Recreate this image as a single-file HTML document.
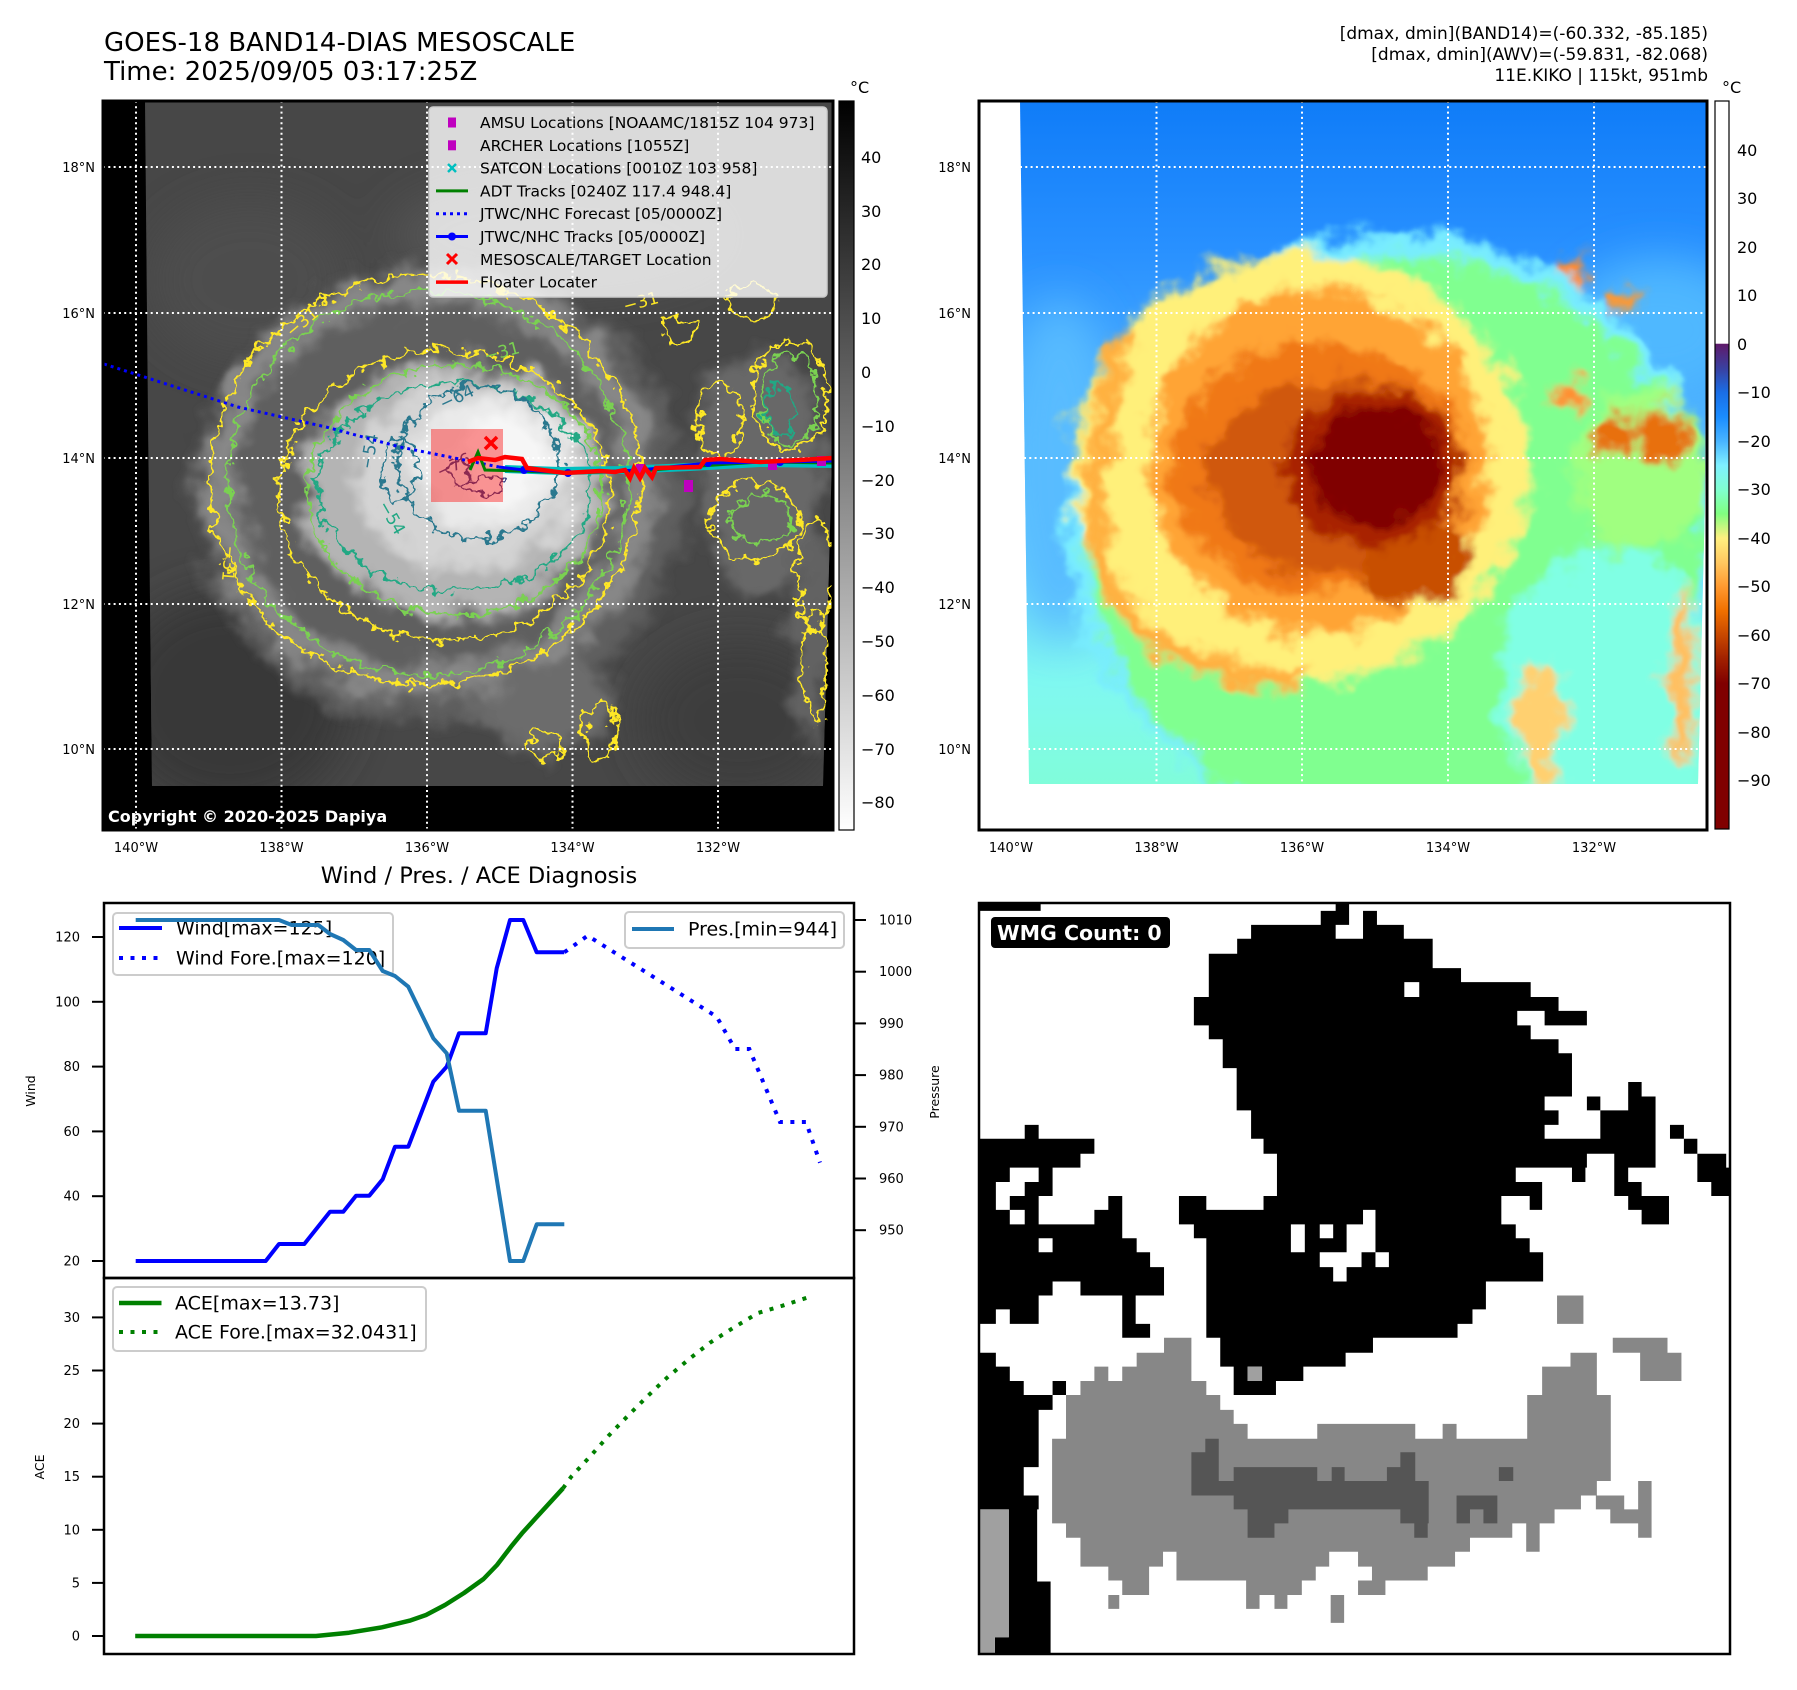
<!DOCTYPE html>
<html><head><meta charset="utf-8">
<style>
html,body{margin:0;padding:0;background:#fff;}
svg{display:block;}
text{font-family:"DejaVu Sans","Liberation Sans",sans-serif;}
</style></head><body>
<svg width="1797" height="1690" viewBox="0 0 1797 1690" xmlns="http://www.w3.org/2000/svg">
<defs>
 <clipPath id="cL"><rect x="103" y="101" width="730" height="729"/></clipPath>
 <clipPath id="cR"><rect x="979" y="101" width="728" height="729"/></clipPath>
 <clipPath id="dL"><path d="M145,101 L833,101 L833,420 L823,786 L152,786 L148,420 Z"/></clipPath>
 <clipPath id="dR"><path d="M1020,101 L1707,101 L1705,500 L1698,784 L1029,784 Z"/></clipPath>
 <clipPath id="cW"><rect x="979" y="903" width="751" height="751"/></clipPath>
 <filter id="bl" filterUnits="userSpaceOnUse" x="0" y="0" width="1797" height="900"><feGaussianBlur stdDeviation="22"/></filter>
 <filter id="cl" filterUnits="userSpaceOnUse" x="0" y="0" width="1797" height="900">
  <feTurbulence type="fractalNoise" baseFrequency="0.025" numOctaves="3" seed="11" result="n"/>
  <feGaussianBlur in="SourceGraphic" stdDeviation="7" result="b"/>
  <feDisplacementMap in="b" in2="n" scale="45" xChannelSelector="R" yChannelSelector="G"/>
 </filter>
 <filter id="clR" filterUnits="userSpaceOnUse" x="0" y="0" width="1797" height="900">
  <feTurbulence type="fractalNoise" baseFrequency="0.03" numOctaves="3" seed="5" result="n"/>
  <feGaussianBlur in="SourceGraphic" stdDeviation="5" result="b"/>
  <feDisplacementMap in="b" in2="n" scale="42" xChannelSelector="R" yChannelSelector="G"/>
 </filter>
 <filter id="rg" filterUnits="userSpaceOnUse" x="0" y="0" width="1797" height="900">
  <feTurbulence type="fractalNoise" baseFrequency="0.08" numOctaves="3" seed="3" result="n"/>
  <feDisplacementMap in="SourceGraphic" in2="n" scale="22" xChannelSelector="R" yChannelSelector="G"/>
 </filter>
 <linearGradient id="gGray" x1="0" y1="0" x2="0" y2="1"><stop offset="0" stop-color="#000"/><stop offset="1" stop-color="#fff"/></linearGradient>
 <linearGradient id="gCol" x1="0" y1="0" x2="0" y2="1">
  <stop offset="0" stop-color="#fff"/><stop offset="0.333" stop-color="#fff"/>
  <stop offset="0.3338" stop-color="#5f1a6a"/><stop offset="0.367" stop-color="#3a40a0"/>
  <stop offset="0.4005" stop-color="#1a6ee6"/><stop offset="0.4338" stop-color="#1a8cff"/>
  <stop offset="0.4671" stop-color="#48b4ff"/><stop offset="0.5004" stop-color="#7ff0ff"/>
  <stop offset="0.5337" stop-color="#80ffd0"/><stop offset="0.567" stop-color="#80ff80"/>
  <stop offset="0.6003" stop-color="#fff080"/><stop offset="0.6336" stop-color="#ffc860"/>
  <stop offset="0.6669" stop-color="#ff9a30"/><stop offset="0.7003" stop-color="#f07000"/>
  <stop offset="0.7336" stop-color="#c84800"/><stop offset="0.7669" stop-color="#a02000"/>
  <stop offset="0.8002" stop-color="#800000"/><stop offset="1" stop-color="#800000"/>
 </linearGradient>
 <linearGradient id="gSky" x1="0" y1="0" x2="0" y2="1">
  <stop offset="0" stop-color="#0f7cf8"/><stop offset="0.2" stop-color="#2890ff"/>
  <stop offset="0.4" stop-color="#48acff"/><stop offset="0.6" stop-color="#68d0ff"/>
  <stop offset="0.8" stop-color="#80f8f0"/><stop offset="1" stop-color="#80ffd0"/>
 </linearGradient>
</defs>

<!-- Titles -->
<text x="104" y="51" font-size="26">GOES-18 BAND14-DIAS MESOSCALE</text>
<text x="104" y="80" font-size="26">Time: 2025/09/05 03:17:25Z</text>
<text x="1708" y="39" font-size="17" text-anchor="end">[dmax, dmin](BAND14)=(-60.332, -85.185)</text>
<text x="1708" y="60" font-size="17" text-anchor="end">[dmax, dmin](AWV)=(-59.831, -82.068)</text>
<text x="1708" y="81" font-size="17" text-anchor="end">11E.KIKO | 115kt, 951mb</text>

<!-- LEFT MAP -->
<g clip-path="url(#cL)">
 <rect x="103" y="101" width="730" height="729" fill="#000"/>
 <g clip-path="url(#dL)">
  <rect x="103" y="101" width="730" height="729" fill="#474747"/>
  <g filter="url(#bl)">
   <ellipse cx="230" cy="700" rx="120" ry="110" fill="#383838"/>
   <ellipse cx="740" cy="720" rx="100" ry="80" fill="#3c3c3c"/>
   <ellipse cx="560" cy="235" rx="170" ry="55" fill="#555555"/>
   <ellipse cx="250" cy="280" rx="100" ry="80" fill="#4e4e4e"/>
  </g>
  <g filter="url(#cl)">
   <ellipse cx="440" cy="495" rx="245" ry="230" fill="#5e5e5e"/>
   <ellipse cx="430" cy="485" rx="210" ry="198" fill="none" stroke="#888888" stroke-width="30"/>
   <ellipse cx="760" cy="470" rx="65" ry="120" fill="#686868"/>
   <ellipse cx="812" cy="640" rx="22" ry="110" fill="#626262"/>
   <ellipse cx="545" cy="705" rx="70" ry="45" fill="#6c6c6c"/>
   <ellipse cx="455" cy="490" rx="150" ry="125" fill="#b4b4b4"/>
   <ellipse cx="470" cy="475" rx="112" ry="95" fill="#d4d4d4"/>
   <ellipse cx="490" cy="465" rx="78" ry="66" fill="#eaeaea"/>
   <ellipse cx="505" cy="458" rx="45" ry="40" fill="#f6f6f6"/>
  </g>
 </g>
 <!-- contours -->
 <g filter="url(#rg)" fill="none" stroke-width="2.6">
  <ellipse cx="425" cy="480" rx="215" ry="205" stroke="#fde725"/>
  <ellipse cx="445" cy="495" rx="165" ry="145" stroke="#fde725"/>
  <ellipse cx="428" cy="483" rx="200" ry="192" stroke="#7ad151"/>
  <ellipse cx="455" cy="490" rx="147" ry="125" stroke="#7ad151"/>
  <ellipse cx="455" cy="487" rx="137" ry="104" stroke="#22a884"/>
  <ellipse cx="478" cy="462" rx="80" ry="77" stroke="#2a788e"/>
  <ellipse cx="400" cy="470" rx="18" ry="32" stroke="#2a788e"/>
  <ellipse cx="482" cy="487" rx="22" ry="9" stroke="#414487"/>
  <ellipse cx="460" cy="470" rx="8" ry="14" stroke="#414487"/>
  <ellipse cx="720" cy="420" rx="22" ry="38" stroke="#fde725"/>
  <ellipse cx="790" cy="395" rx="38" ry="55" stroke="#fde725"/>
  <ellipse cx="755" cy="520" rx="45" ry="38" stroke="#fde725"/>
  <ellipse cx="815" cy="575" rx="18" ry="55" stroke="#fde725"/>
  <ellipse cx="815" cy="665" rx="12" ry="55" stroke="#fde725"/>
  <ellipse cx="600" cy="730" rx="15" ry="28" stroke="#fde725"/>
  <ellipse cx="545" cy="745" rx="18" ry="14" stroke="#fde725"/>
  <ellipse cx="750" cy="302" rx="25" ry="18" stroke="#fde725"/>
  <ellipse cx="680" cy="330" rx="18" ry="12" stroke="#fde725"/>
  <ellipse cx="790" cy="400" rx="28" ry="45" stroke="#7ad151"/>
  <ellipse cx="760" cy="520" rx="30" ry="25" stroke="#7ad151"/>
  <ellipse cx="780" cy="410" rx="15" ry="25" stroke="#22a884"/>
 </g>
 <g font-size="17">
  <text x="443" y="410" fill="#2a788e" transform="rotate(-25 443 410)">−64</text>
  <text x="440" y="478" fill="#414487" transform="rotate(-25 440 478)">−76</text>
  <text x="372" y="470" fill="#2a788e" transform="rotate(-80 372 470)">−54</text>
  <text x="378" y="505" fill="#22a884" transform="rotate(60 378 505)">−54</text>
  <text x="486" y="362" fill="#7ad151" transform="rotate(-15 486 362)">−31</text>
  <text x="292" y="338" fill="#fde725" transform="rotate(-40 292 338)">−31</text>
  <text x="625" y="312" fill="#fde725" transform="rotate(-15 625 312)">−31</text>
  <text x="225" y="545" fill="#fde725" transform="rotate(95 225 545)">−31</text>
 </g>
 <!-- grid -->
 <g stroke="#fff" stroke-width="2" stroke-dasharray="2 3.3">
  <line x1="136" y1="101" x2="136" y2="830"/><line x1="281.5" y1="101" x2="281.5" y2="830"/>
  <line x1="427" y1="101" x2="427" y2="830"/><line x1="572.5" y1="101" x2="572.5" y2="830"/>
  <line x1="718" y1="101" x2="718" y2="830"/>
  <line x1="103" y1="167" x2="833" y2="167"/><line x1="103" y1="313" x2="833" y2="313"/>
  <line x1="103" y1="458" x2="833" y2="458"/><line x1="103" y1="604" x2="833" y2="604"/>
  <line x1="103" y1="749" x2="833" y2="749"/>
 </g>
 <!-- tracks -->
 <rect x="431" y="429" width="72" height="73" fill="#ff0000" fill-opacity="0.4"/>
 <polyline points="104,364 238,407 326,427 400,447 499,467" fill="none" stroke="#0000ff" stroke-width="3" stroke-dasharray="3 4"/>
 <polyline points="505,469 560,471 620,470 690,467 760,463 833,464" fill="none" stroke="#00bfbf" stroke-width="8"/>
 <polyline points="470,470 478,452 485,470 520,471 570,473 640,471 700,466 760,462 833,463" fill="none" stroke="#008000" stroke-width="3"/>
 <polyline points="499,467 524,470 568,473 640,470 708,463 780,462 833,461" fill="none" stroke="#0000ff" stroke-width="3"/>
 <g fill="#0000ff"><circle cx="524" cy="470" r="4"/><circle cx="568" cy="473" r="4"/><circle cx="640" cy="470" r="4"/><circle cx="708" cy="463" r="4"/><circle cx="780" cy="462" r="4"/></g>
 <g fill="#bf00bf"><rect x="684" y="480" width="9" height="12"/><rect x="768" y="460" width="9" height="10"/><rect x="817" y="456" width="9" height="10"/><rect x="636" y="464" width="9" height="10"/></g>
 <polyline points="468,462 478,458 495,460 505,457 522,459 527,468 565,473 600,471 615,472 625,470 630,478 634,468 640,478 645,468 652,477 656,468 700,467 705,460 720,459 760,462 800,460 833,458" fill="none" stroke="#ff0000" stroke-width="4.5"/>
 <g stroke="#ff0000" stroke-width="3.5"><line x1="485" y1="437" x2="497" y2="449"/><line x1="497" y1="437" x2="485" y2="449"/></g>
 <!-- legend -->
 <rect x="429" y="107" width="398" height="190" rx="4" fill="#fff" fill-opacity="0.8" stroke="#cccccc" stroke-width="1.5"/>
 <g font-size="15.5">
  <rect x="448" y="117.5" width="8" height="10" fill="#bf00bf"/>
  <text x="480" y="128">AMSU Locations [NOAAMC/1815Z 104 973]</text>
  <rect x="448" y="140.3" width="8" height="10" fill="#bf00bf"/>
  <text x="480" y="150.8">ARCHER Locations [1055Z]</text>
  <g stroke="#00bfbf" stroke-width="2.5"><line x1="448" y1="164" x2="456" y2="172"/><line x1="456" y1="164" x2="448" y2="172"/></g>
  <text x="480" y="173.6">SATCON Locations [0010Z 103 958]</text>
  <line x1="436" y1="190.9" x2="468" y2="190.9" stroke="#008000" stroke-width="3"/>
  <text x="480" y="196.4">ADT Tracks [0240Z 117.4 948.4]</text>
  <line x1="436" y1="213.7" x2="468" y2="213.7" stroke="#0000ff" stroke-width="3" stroke-dasharray="3 4"/>
  <text x="480" y="219.2">JTWC/NHC Forecast [05/0000Z]</text>
  <line x1="436" y1="236.5" x2="468" y2="236.5" stroke="#0000ff" stroke-width="3"/>
  <circle cx="452" cy="236.5" r="4" fill="#0000ff"/>
  <text x="480" y="242">JTWC/NHC Tracks [05/0000Z]</text>
  <g stroke="#ff0000" stroke-width="3"><line x1="447" y1="254" x2="457" y2="264"/><line x1="457" y1="254" x2="447" y2="264"/></g>
  <text x="480" y="264.8">MESOSCALE/TARGET Location</text>
  <line x1="436" y1="282.1" x2="468" y2="282.1" stroke="#ff0000" stroke-width="3.5"/>
  <text x="480" y="287.6">Floater Locater</text>
 </g>
 <text x="108" y="822" font-size="16" font-weight="bold" fill="#fff">Copyright © 2020-2025 Dapiya</text>
</g>
<rect x="103" y="101" width="730" height="729" fill="none" stroke="#000" stroke-width="3"/>

<!-- left colorbar -->
<rect x="839" y="101" width="15" height="729" fill="url(#gGray)" stroke="#000" stroke-width="1.2"/>
<text x="850" y="93" font-size="16">°C</text>
<g font-size="16">
 <text x="861" y="163">40</text><text x="861" y="217">30</text><text x="861" y="270">20</text>
 <text x="861" y="324">10</text><text x="861" y="378">0</text><text x="861" y="432">−10</text>
 <text x="861" y="486">−20</text><text x="861" y="539">−30</text><text x="861" y="593">−40</text>
 <text x="861" y="647">−50</text><text x="861" y="701">−60</text><text x="861" y="755">−70</text>
 <text x="861" y="808">−80</text>
</g>

<!-- map axis labels -->
<g font-size="13">
 <text x="95" y="172" text-anchor="end">18°N</text><text x="95" y="318" text-anchor="end">16°N</text>
 <text x="95" y="463" text-anchor="end">14°N</text><text x="95" y="609" text-anchor="end">12°N</text>
 <text x="95" y="754" text-anchor="end">10°N</text>
 <text x="136" y="852" text-anchor="middle">140°W</text><text x="281.5" y="852" text-anchor="middle">138°W</text>
 <text x="427" y="852" text-anchor="middle">136°W</text><text x="572.5" y="852" text-anchor="middle">134°W</text>
 <text x="718" y="852" text-anchor="middle">132°W</text>
 <text x="971" y="172" text-anchor="end">18°N</text><text x="971" y="318" text-anchor="end">16°N</text>
 <text x="971" y="463" text-anchor="end">14°N</text><text x="971" y="609" text-anchor="end">12°N</text>
 <text x="971" y="754" text-anchor="end">10°N</text>
 <text x="1011" y="852" text-anchor="middle">140°W</text><text x="1156.5" y="852" text-anchor="middle">138°W</text>
 <text x="1302" y="852" text-anchor="middle">136°W</text><text x="1448" y="852" text-anchor="middle">134°W</text>
 <text x="1594" y="852" text-anchor="middle">132°W</text>
</g>

<!-- RIGHT MAP -->
<g clip-path="url(#cR)">
 <rect x="979" y="101" width="728" height="729" fill="#fff"/>
 <g clip-path="url(#dR)">
  <rect x="979" y="101" width="728" height="729" fill="url(#gSky)"/>
  <g filter="url(#bl)">
   <ellipse cx="1060" cy="470" rx="55" ry="170" fill="#58bcff"/>
   <ellipse cx="1660" cy="330" rx="90" ry="70" fill="#50b8ff"/>
  </g>
  <g filter="url(#clR)">
   <ellipse cx="1390" cy="530" rx="325" ry="298" fill="#78ecff"/>
   <ellipse cx="1395" cy="540" rx="310" ry="286" fill="#80ff90"/>
   <ellipse cx="1610" cy="690" rx="110" ry="140" fill="#80ffe4"/>
   <ellipse cx="1640" cy="470" rx="70" ry="80" fill="#a0ff80"/>
   <ellipse cx="1300" cy="468" rx="228" ry="215" fill="#fff07a"/>
   <path d="M1130,330 C1085,420 1085,540 1120,600 C1160,660 1230,680 1310,680" fill="none" stroke="#ffb040" stroke-width="22"/>
   <ellipse cx="1318" cy="462" rx="170" ry="172" fill="#ffa434"/>
   <ellipse cx="1320" cy="468" rx="148" ry="125" fill="#f07818"/>
   <ellipse cx="1335" cy="475" rx="130" ry="100" fill="#d05808"/>
   <ellipse cx="1415" cy="560" rx="55" ry="45" fill="#c85000"/>
   <ellipse cx="1372" cy="468" rx="92" ry="78" fill="#a82400"/>
   <ellipse cx="1376" cy="466" rx="68" ry="56" fill="#800000"/>
   <ellipse cx="1568" cy="393" rx="16" ry="14" fill="#ff9030"/>
   <ellipse cx="1613" cy="433" rx="22" ry="22" fill="#e87010"/>
   <ellipse cx="1663" cy="435" rx="27" ry="28" fill="#e87010"/>
   <ellipse cx="1571" cy="270" rx="13" ry="11" fill="#ff8c30"/>
   <ellipse cx="1624" cy="300" rx="15" ry="10" fill="#ff9830"/>
   <ellipse cx="1685" cy="680" rx="12" ry="90" fill="#ffc060"/>
   <ellipse cx="1540" cy="720" rx="22" ry="60" fill="#ffd070"/>
  </g>
 </g>
 <g stroke="#fff" stroke-width="2" stroke-dasharray="2 3.3">
  <line x1="1156.5" y1="101" x2="1156.5" y2="784"/><line x1="1302" y1="101" x2="1302" y2="784"/>
  <line x1="1448" y1="101" x2="1448" y2="784"/><line x1="1594" y1="101" x2="1594" y2="784"/>
  <line x1="1020" y1="167" x2="1707" y2="167"/><line x1="1022" y1="313" x2="1707" y2="313"/>
  <line x1="1024" y1="458" x2="1707" y2="458"/><line x1="1026" y1="604" x2="1707" y2="604"/>
  <line x1="1028" y1="749" x2="1707" y2="749"/>
 </g>
</g>
<rect x="979" y="101" width="728" height="729" fill="none" stroke="#000" stroke-width="3"/>

<!-- right colorbar -->
<rect x="1715" y="101" width="14" height="728" fill="url(#gCol)" stroke="#000" stroke-width="1.2"/>
<text x="1722" y="93" font-size="16">°C</text>
<g font-size="16">
 <text x="1737" y="156">40</text><text x="1737" y="204">30</text><text x="1737" y="253">20</text>
 <text x="1737" y="301">10</text><text x="1737" y="350">0</text><text x="1737" y="398">−10</text>
 <text x="1737" y="447">−20</text><text x="1737" y="495">−30</text><text x="1737" y="544">−40</text>
 <text x="1737" y="592">−50</text><text x="1737" y="641">−60</text><text x="1737" y="689">−70</text>
 <text x="1737" y="738">−80</text><text x="1737" y="786">−90</text>
</g>

<!-- BOTTOM LEFT: Wind / Pres -->
<text x="479" y="883" font-size="22.5" text-anchor="middle">Wind / Pres. / ACE Diagnosis</text>
<polyline points="135.7,1261 265.7,1261 279,1244 304.3,1244 330,1211.7 343.3,1211.7 356,1195.7 369.3,1195.7 382.7,1179.3 395,1146.7 408.3,1146.7 433.3,1081.7 446.7,1066.7 459,1033.3 485.7,1033.3 496.7,968.3 510,920 523.3,920 536.7,952.3 564.3,952.3" fill="none" stroke="#0000ff" stroke-width="4" stroke-linejoin="round"/>
<polyline points="564.3,952.3 587.7,935.7 716.7,1016.7 735,1049 749.3,1049 780,1122 806,1122 820,1162.7" fill="none" stroke="#0000ff" stroke-width="4" stroke-dasharray="4 7.5"/>
<rect x="113" y="913" width="280" height="62" rx="4" fill="#fff" fill-opacity="0.8" stroke="#cccccc" stroke-width="2"/>
<line x1="119" y1="928" x2="162" y2="928" stroke="#0000ff" stroke-width="4"/>
<text x="176" y="934.5" font-size="19">Wind[max=125]</text>
<line x1="119" y1="958" x2="162" y2="958" stroke="#0000ff" stroke-width="4" stroke-dasharray="4 7.5"/>
<text x="176" y="964.5" font-size="19">Wind Fore.[max=120]</text>
<polyline points="135.7,920 279,920 291.7,925 318.3,925 330,934 343.3,940 356,950 369.3,950 382.7,971 395,976 408.3,986.7 433.3,1038.3 446.7,1053.3 459,1110.7 485.7,1110.7 510,1261 523.3,1261 536.7,1224.3 564.3,1224.3" fill="none" stroke="#1f77b4" stroke-width="4" stroke-linejoin="round"/>
<rect x="625" y="912" width="219" height="36" rx="4" fill="#fff" fill-opacity="0.8" stroke="#cccccc" stroke-width="2"/>
<line x1="632" y1="929" x2="674" y2="929" stroke="#1f77b4" stroke-width="4"/>
<text x="688" y="935.5" font-size="19">Pres.[min=944]</text>
<rect x="104" y="903" width="750" height="375" fill="none" stroke="#000" stroke-width="2.5"/>
<g stroke="#000" stroke-width="2">
 <line x1="92" y1="1261" x2="104" y2="1261"/><line x1="92" y1="1196.2" x2="104" y2="1196.2"/>
 <line x1="92" y1="1131.4" x2="104" y2="1131.4"/><line x1="92" y1="1066.6" x2="104" y2="1066.6"/>
 <line x1="92" y1="1001.8" x2="104" y2="1001.8"/><line x1="92" y1="937" x2="104" y2="937"/>
 <line x1="854" y1="920" x2="866" y2="920"/><line x1="854" y1="971.7" x2="866" y2="971.7"/>
 <line x1="854" y1="1023.4" x2="866" y2="1023.4"/><line x1="854" y1="1075.1" x2="866" y2="1075.1"/>
 <line x1="854" y1="1126.8" x2="866" y2="1126.8"/><line x1="854" y1="1178.5" x2="866" y2="1178.5"/>
 <line x1="854" y1="1230.2" x2="866" y2="1230.2"/>
</g>
<g font-size="13" text-anchor="end">
 <text x="80" y="1265.5">20</text><text x="80" y="1200.7">40</text><text x="80" y="1135.9">60</text>
 <text x="80" y="1071.1">80</text><text x="80" y="1006.3">100</text><text x="80" y="941.5">120</text>
</g>
<g font-size="13">
 <text x="879" y="924.5">1010</text><text x="879" y="976.2">1000</text><text x="879" y="1027.9">990</text>
 <text x="879" y="1079.6">980</text><text x="879" y="1131.3">970</text><text x="879" y="1183">960</text>
 <text x="879" y="1234.7">950</text>
</g>
<text transform="translate(35 1091) rotate(-90)" font-size="12.5" text-anchor="middle">Wind</text>
<text transform="translate(939 1092) rotate(-90)" font-size="12.5" text-anchor="middle">Pressure</text>

<!-- ACE -->
<polyline points="135.2,1636 316,1636 349,1632.7 382,1627.3 409.5,1620.7 426,1615 445,1605 464,1593 483.5,1579 497,1565 511,1546.7 522,1533.3 535.6,1518.3 563,1488.3" fill="none" stroke="#008000" stroke-width="4.5" stroke-linejoin="round"/>
<polyline points="563,1488.3 571,1477 590.5,1456 608.6,1435.7 628,1415.7 647,1396.7 667,1377.7 688,1360 710,1342.7 733,1328 758,1313 782.5,1305.7 810,1296.7" fill="none" stroke="#008000" stroke-width="4" stroke-dasharray="4 7.5"/>
<rect x="113" y="1287" width="313" height="64" rx="4" fill="#fff" fill-opacity="0.8" stroke="#cccccc" stroke-width="2"/>
<line x1="119" y1="1303" x2="161.5" y2="1303" stroke="#008000" stroke-width="4.5"/>
<text x="175" y="1309.5" font-size="19">ACE[max=13.73]</text>
<line x1="119" y1="1332" x2="161.5" y2="1332" stroke="#008000" stroke-width="4" stroke-dasharray="4 7.5"/>
<text x="175" y="1338.5" font-size="19">ACE Fore.[max=32.0431]</text>
<rect x="104" y="1278" width="750" height="376" fill="none" stroke="#000" stroke-width="2.5"/>
<g stroke="#000" stroke-width="2">
 <line x1="92" y1="1636" x2="104" y2="1636"/><line x1="92" y1="1582.9" x2="104" y2="1582.9"/>
 <line x1="92" y1="1529.8" x2="104" y2="1529.8"/><line x1="92" y1="1476.7" x2="104" y2="1476.7"/>
 <line x1="92" y1="1423.6" x2="104" y2="1423.6"/><line x1="92" y1="1370.5" x2="104" y2="1370.5"/>
 <line x1="92" y1="1317.4" x2="104" y2="1317.4"/>
</g>
<g font-size="13" text-anchor="end">
 <text x="80" y="1640.5">0</text><text x="80" y="1587.4">5</text><text x="80" y="1534.3">10</text>
 <text x="80" y="1481.2">15</text><text x="80" y="1428.1">20</text><text x="80" y="1375">25</text>
 <text x="80" y="1321.9">30</text>
</g>
<text transform="translate(44 1467) rotate(-90)" font-size="12.5" text-anchor="middle">ACE</text>

<!-- WMG PANEL -->
<g clip-path="url(#cW)">
 <rect x="979" y="903" width="751" height="751" fill="#fff"/>
 <g transform="translate(970 895) scale(0.4975)">
  <path fill="#000" d="M18 15H142V32H18Z M735 15H762V32H735Z M705 32H762V60H705Z M790 32H818V60H790Z M565 60H735V88H565Z M790 60H872V88H790Z M537 88H930V118H537Z M480 118H930V147H480Z M480 147H987V175H480Z M480 175H873V205H480Z M903 175H1127V205H903Z M450 205H1183V233H450Z M450 233H1100V262H450Z M1155 233H1240V262H1155Z M480 262H1127V290H480Z M508 290H1183V318H508Z M508 318H1210V348H508Z M536 348H1210V376H536Z M536 376H1210V405H536Z M1323 376H1350V405H1323Z M536 405H1155V433H536Z M1240 405H1267V433H1240Z M1323 405H1378V433H1323Z M565 433H1183V462H565Z M1267 433H1378V462H1267Z M565 462H1155V490H565Z M1267 462H1378V490H1267Z M1407 462H1435V490H1407Z M590 490H1378V520H590Z M1435 490H1462V520H1435Z M617 520H1240V548H617Z M1295 520H1378V548H1295Z M1462 520H1520V548H1462Z M617 548H1097V577H617Z M1210 548H1237V577H1210Z M1295 548H1323V577H1295Z M1462 548H1528V577H1462Z M617 577H1150V605H617Z M1295 577H1350V605H1295Z M1490 577H1528V605H1490Z M420 605H475V633H420Z M590 605H1068V633H590Z M1125 605H1150V633H1125Z M1323 605H1405V633H1323Z M420 633H790V662H420Z M815 633H1068V662H815Z M1350 633H1405V662H1350Z M450 662H645V690H450Z M673 662H703V690H673Z M730 662H757V690H730Z M815 662H1097V690H815Z M475 690H645V718H475Z M673 690H757V718H673Z M815 690H1125V718H815Z M475 718H703V748H475Z M787 718H815V748H787Z M842 718H1152V748H842Z M475 748H730V777H475Z M757 748H1152V777H757Z M475 777H1037V833H475Z M475 833H1010V862H475Z M475 862H980V890H475Z M503 890H810V920H503Z M503 920H755V948H503Z M530 948H558V977H530Z M587 948H670V977H587Z M530 977H615V1005H530Z"/>
  <path fill="#000" d="M110 462H138V490H110Z M18 490H250V520H18Z M18 520H222V548H18Z M18 548H80V577H18Z M138 548H166V577H138Z M18 577H52V605H18Z M110 577H166V605H110Z M18 605H52V633H18Z M80 605H138V633H80Z M278 605H306V633H278Z M18 633H80V662H18Z M110 633H138V662H110Z M250 633H306V662H250Z M18 662H306V690H18Z M18 690H138V718H18Z M166 690H335V718H166Z M18 718H362V748H18Z M18 748H390V777H18Z M18 777H166V805H18Z M222 777H390V805H222Z M18 805H138V833H18Z M306 805H333V862H306Z M18 833H52V862H18Z M80 833H138V862H80Z M306 862H362V890H306Z M18 920H52V948H18Z M18 948H80V977H18Z M18 977H108V1005H18Z M166 977H193V1005H166Z M18 1005H166V1035H18Z M18 1035H138V1150H18Z M18 1150H108V1207H18Z M18 1207H138V1235H18Z M78 1235H135V1380H78Z M78 1380H162V1492H78Z M50 1492H162V1525H50Z"/>
  <path fill="#a0a0a0" d="M18 1235H78V1492H18Z M18 1492H50V1525H18Z M558 948H587V977H558Z"/>
  <path fill="#878787" d="M390 890H445V920H390Z M1292 890H1402V920H1292Z M335 920H445V948H335Z M1207 920H1260V948H1207Z M1347 920H1430V977H1347Z M250 948H278V977H250Z M306 948H445V977H306Z M1150 948H1260V1005H1150Z M222 977H475V1005H222Z M193 1005H503V1035H193Z M1120 1005H1288V1093H1120Z M193 1035H530V1063H193Z M193 1063H558V1093H193Z M698 1063H895V1093H698Z M950 1063H978V1093H950Z M165 1093H1288V1178H165Z M165 1178H1260V1207H165Z M1343 1178H1370V1292H1343Z M165 1207H1228V1235H165Z M1258 1207H1315V1235H1258Z M165 1235H1175V1263H165Z M1287 1235H1343V1263H1287Z M193 1263H1090V1292H193Z M1118 1263H1145V1320H1118Z M222 1292H1005V1320H222Z M222 1320H388V1350H222Z M415 1320H722V1350H415Z M780 1320H975V1350H780Z M278 1350H360V1378H278Z M415 1350H695V1378H415Z M808 1350H920V1378H808Z M306 1378H360V1407H306Z M555 1378H667V1407H555Z M780 1378H835V1407H780Z M278 1407H300V1435H278Z M555 1407H582V1435H555Z M612 1407H638V1435H612Z M725 1407H752V1463H725Z M1180 805H1233V862H1180Z"/>
  <path fill="#555555" d="M473 1093H500V1120H473Z M445 1120H500V1178H445Z M865 1120H895V1150H865Z M530 1150H698V1178H530Z M727 1150H753V1178H727Z M838 1150H895V1178H838Z M1063 1150H1092V1178H1063Z M445 1178H922V1207H445Z M530 1207H922V1235H530Z M978 1207H1060V1235H978Z M558 1235H640V1263H558Z M865 1235H922V1263H865Z M978 1235H1005V1263H978Z M1032 1235H1060V1263H1032Z M558 1263H612V1292H558Z M893 1263H920V1292H893Z"/>
 </g>
 <rect x="991" y="917" width="179" height="31" rx="4" fill="#000"/>
 <text x="997" y="940" font-size="20.5" font-weight="bold" fill="#fff">WMG Count: 0</text>
</g>
<rect x="979" y="903" width="751" height="751" fill="none" stroke="#000" stroke-width="2.5"/>
</svg>
</body></html>
